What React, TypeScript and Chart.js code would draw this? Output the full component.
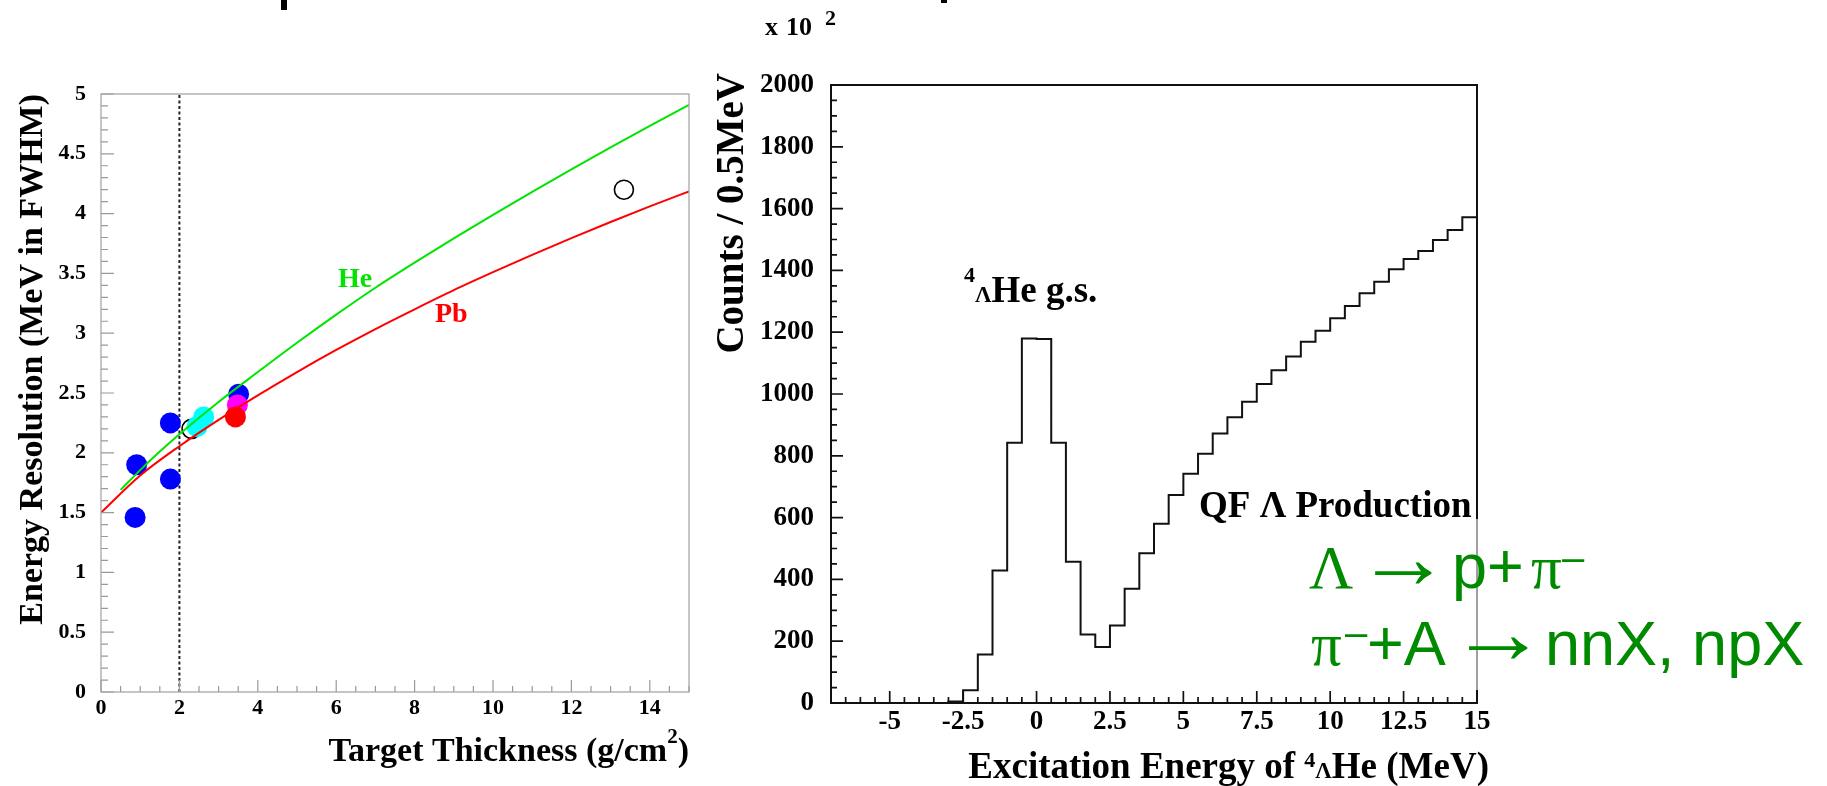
import React, { useEffect, useRef } from "react";
import { Chart, registerables } from "chart.js";

Chart.register(...registerables);

const SERIF = '"Liberation Serif", "Times New Roman", Times, serif';
const SANS = '"Liberation Sans", Arial, Helvetica, sans-serif';

// ---------------- Left panel: energy resolution vs target thickness ----------------
const THICKNESS_TICKS = [0, 2, 4, 6, 8, 10, 12, 14];
const RESOLUTION_TICKS = [0, 0.5, 1, 1.5, 2, 2.5, 3, 3.5, 4, 4.5, 5];

const HE_CURVE_X = [0.5, 1, 1.5, 2, 3, 4, 5, 6, 7, 8, 9, 10, 11, 12, 13, 14, 15];
const HE_CURVE_Y = [1.69, 1.855, 2.01, 2.155, 2.425, 2.675, 2.92, 3.155, 3.38, 3.59, 3.793, 3.99, 4.182, 4.37, 4.554, 4.734, 4.91];

const PB_CURVE_X = [0, 1, 2, 3, 4, 5, 6, 7, 8, 9, 10, 11, 12, 13, 14, 15];
const PB_CURVE_Y = [1.5, 1.81, 2.055, 2.275, 2.48, 2.675, 2.86, 3.035, 3.2, 3.36, 3.51, 3.655, 3.795, 3.93, 4.06, 4.185];

const BLUE_X = [0.87, 0.91, 1.77, 1.77, 3.51];
const BLUE_Y = [1.46, 1.9, 1.78, 2.25, 2.49];
const MAGENTA_X = [3.48];
const MAGENTA_Y = [2.4];
const RED_X = [3.43];
const RED_Y = [2.3];
const CYAN_X = [2.45, 2.62];
const CYAN_Y = [2.22, 2.3];
const OPEN_X = [2.31, 13.34];
const OPEN_Y = [2.2, 4.2];

const TARGET_LIMIT_X = [2, 2];
const TARGET_LIMIT_Y = [0, 5];

// ---------------- Right panel: 4_Lambda He excitation spectrum ----------------
const BIN_LOW_EDGES = [
  -7, -6.5, -6, -5.5, -5, -4.5, -4, -3.5, -3, -2.5, -2, -1.5, -1, -0.5,
  0, 0.5, 1, 1.5, 2, 2.5, 3, 3.5, 4, 4.5, 5, 5.5, 6, 6.5, 7, 7.5, 8, 8.5,
  9, 9.5, 10, 10.5, 11, 11.5, 12, 12.5, 13, 13.5, 14, 14.5,
];
const BIN_UPPER_EDGE = 15;
const COUNTS = [
  0, 0, 0, 0, 0, 0, 0, 0, 5, 41, 157, 429, 842, 1180,
  1178, 842, 457, 222, 181, 251, 370, 485, 580, 673, 742, 807, 872, 925, 975, 1032, 1077, 1121,
  1169, 1205, 1245, 1285, 1326, 1363, 1404, 1437, 1463, 1498, 1531, 1572,
];
const ENERGY_TICKS = [-5, -2.5, 0, 2.5, 5, 7.5, 10, 12.5, 15];
const COUNT_TICKS = [0, 200, 400, 600, 800, 1000, 1200, 1400, 1600, 1800, 2000];

// ---------------- helpers ----------------
const zip = (xs: number[], ys: number[]) => xs.map((x, i) => ({ x, y: ys[i] }));

type TickSpec = {
  xMin: number; xMax: number; xMinor: number; xMajor: number;
  yMin: number; yMax: number; yMinor: number; yMajor: number;
  xMajorLen: number; xMinorLen: number; yMajorLen: number; yMinorLen: number;
  color: string; lineWidth: number; frameColor: string; frameWidth: number;
};

function isMultiple(v: number, step: number) {
  const r = v / step;
  return Math.abs(r - Math.round(r)) < 1e-6;
}

function drawFrameAndTicks(chart: any, s: TickSpec) {
  const { ctx, chartArea: a } = chart;
  const xs = chart.scales.x;
  const ys = chart.scales.y;
  ctx.save();
  ctx.strokeStyle = s.color;
  ctx.lineWidth = s.lineWidth;
  ctx.beginPath();
  const nx = Math.round((s.xMax - s.xMin) / s.xMinor);
  for (let i = 0; i <= nx; i++) {
    const v = s.xMin + i * s.xMinor;
    const px = xs.getPixelForValue(v);
    const len = isMultiple(v, s.xMajor) ? s.xMajorLen : s.xMinorLen;
    ctx.moveTo(px, a.bottom);
    ctx.lineTo(px, a.bottom - len);
  }
  const ny = Math.round((s.yMax - s.yMin) / s.yMinor);
  for (let i = 0; i <= ny; i++) {
    const v = s.yMin + i * s.yMinor;
    const py = ys.getPixelForValue(v);
    const len = isMultiple(v, s.yMajor) ? s.yMajorLen : s.yMinorLen;
    ctx.moveTo(a.left, py);
    ctx.lineTo(a.left + len, py);
  }
  ctx.stroke();
  ctx.strokeStyle = s.frameColor;
  ctx.lineWidth = s.frameWidth;
  ctx.strokeRect(a.left, a.top, a.right - a.left, a.bottom - a.top);
  ctx.restore();
}

type Run = { t: string; font: string; dy?: number };
function drawRuns(ctx: CanvasRenderingContext2D, runs: Run[], x: number, y: number, align: "left" | "right", color: string) {
  ctx.save();
  ctx.textAlign = "left";
  ctx.textBaseline = "alphabetic";
  ctx.fillStyle = color;
  const widths = runs.map((r) => {
    ctx.font = r.font;
    return ctx.measureText(r.t).width;
  });
  const total = widths.reduce((p, c) => p + c, 0);
  let cx = align === "right" ? x - total : x;
  runs.forEach((r, i) => {
    ctx.font = r.font;
    ctx.fillText(r.t, cx, y + (r.dy || 0));
    cx += widths[i];
  });
  ctx.restore();
}

function drawText(ctx: CanvasRenderingContext2D, t: string, x: number, y: number, font: string, color: string) {
  ctx.save();
  ctx.font = font;
  ctx.fillStyle = color;
  ctx.textAlign = "left";
  ctx.textBaseline = "alphabetic";
  ctx.fillText(t, x, y);
  ctx.restore();
}

// draws a glyph so that its ink spans [x0, x1] horizontally and is centred on yc
function drawFitted(ctx: CanvasRenderingContext2D, t: string, font: string, x0: number, x1: number, yc: number, color: string) {
  ctx.save();
  ctx.font = font;
  ctx.textAlign = "left";
  ctx.textBaseline = "alphabetic";
  ctx.fillStyle = color;
  const m = ctx.measureText(t);
  const inkL = -m.actualBoundingBoxLeft;
  const inkR = m.actualBoundingBoxRight;
  const sx = (x1 - x0) / Math.max(1, inkR - inkL);
  const midY = (m.actualBoundingBoxDescent - m.actualBoundingBoxAscent) / 2;
  ctx.translate(x0 - inkL * sx, yc - midY);
  ctx.scale(sx, 1);
  ctx.fillText(t, 0, 0);
  ctx.restore();
}

function drawVertical(ctx: CanvasRenderingContext2D, t: string, x: number, yTop: number, font: string) {
  ctx.save();
  ctx.translate(x, yTop);
  ctx.rotate(-Math.PI / 2);
  ctx.font = font;
  ctx.fillStyle = "#000";
  ctx.textAlign = "right";
  ctx.textBaseline = "alphabetic";
  ctx.fillText(t, 0, 0);
  ctx.restore();
}

const bold = (px: number) => `bold ${px}px ${SERIF}`;
const HE_GREEN = "#00e400";

function pointSet(xs: number[], ys: number[], color: string, order: number) {
  return {
    data: zip(xs, ys),
    showLine: false,
    pointRadius: 10.5,
    pointBackgroundColor: color,
    pointBorderColor: color,
    pointBorderWidth: 0,
    order,
  };
}

function leftConfig(): any {
  const decor = {
    id: "leftDecor",
    afterDraw(chart: any) {
      const ctx = chart.ctx as CanvasRenderingContext2D;
      drawFrameAndTicks(chart, {
        xMin: 0, xMax: 15, xMinor: 0.5, xMajor: 2,
        yMin: 0, yMax: 5, yMinor: 0.1, yMajor: 0.5,
        xMajorLen: 12, xMinorLen: 6, yMajorLen: 13, yMinorLen: 7,
        color: "#9a9a9a", lineWidth: 1.2, frameColor: "#a0a0a0", frameWidth: 1.2,
      });
      drawRuns(
        ctx,
        [
          { t: "Target Thickness (g/cm", font: bold(34) },
          { t: "2", font: bold(21), dy: -18 },
          { t: ")", font: bold(34) },
        ],
        689, 761, "right", "#000"
      );
      drawVertical(ctx, "Energy Resolution (MeV in FWHM)", 42, 94, bold(34));
      drawText(ctx, "He", 338, 287, bold(28), HE_GREEN);
      drawText(ctx, "Pb", 435, 322, bold(28), "#ff0000");
    },
  };
  return {
    type: "line",
    data: {
      datasets: [
        {
          label: "He",
          data: zip(HE_CURVE_X, HE_CURVE_Y),
          borderColor: HE_GREEN,
          borderWidth: 2,
          pointRadius: 0,
          cubicInterpolationMode: "monotone",
          fill: false,
          order: 0,
        },
        {
          label: "Pb",
          data: zip(PB_CURVE_X, PB_CURVE_Y),
          borderColor: "#ff0000",
          borderWidth: 2,
          pointRadius: 0,
          cubicInterpolationMode: "monotone",
          fill: false,
          order: 1,
        },
        pointSet(CYAN_X, CYAN_Y, "#00ffff", 2),
        pointSet(RED_X, RED_Y, "#ff0000", 3),
        pointSet(MAGENTA_X, MAGENTA_Y, "#ff00ff", 4),
        pointSet(BLUE_X, BLUE_Y, "#0000ff", 5),
        {
          data: zip(OPEN_X, OPEN_Y),
          showLine: false,
          pointRadius: 9.5,
          pointBackgroundColor: "rgba(0,0,0,0)",
          pointBorderColor: "#000",
          pointBorderWidth: 1.6,
          order: 6,
        },
        {
          data: zip(TARGET_LIMIT_X, TARGET_LIMIT_Y),
          borderColor: "#222",
          borderWidth: 2,
          borderDash: [3, 2.5],
          pointRadius: 0,
          order: 7,
        },
      ],
    },
    options: {
      responsive: false,
      animation: false,
      events: [],
      layout: { padding: { left: 0, top: 94, right: 71, bottom: 0 } },
      plugins: { legend: { display: false }, tooltip: { enabled: false }, title: { display: false } },
      scales: {
        x: {
          type: "linear",
          min: 0,
          max: 15,
          grid: { display: false, drawTicks: false },
          border: { display: false },
          afterBuildTicks: (s: any) => {
            s.ticks = THICKNESS_TICKS.map((value) => ({ value }));
          },
          afterFit: (s: any) => {
            s.height = 94;
          },
          ticks: {
            autoSkip: false,
            maxRotation: 0,
            padding: 3,
            color: "#000",
            font: { family: SERIF, size: 22, weight: "bold" },
            callback: (v: any) => String(v),
          },
        },
        y: {
          type: "linear",
          min: 0,
          max: 5,
          grid: { display: false, drawTicks: false },
          border: { display: false },
          afterBuildTicks: (s: any) => {
            s.ticks = RESOLUTION_TICKS.map((value) => ({ value }));
          },
          afterFit: (s: any) => {
            s.width = 101;
          },
          ticks: {
            autoSkip: false,
            padding: 15,
            color: "#000",
            font: { family: SERIF, size: 22, weight: "bold" },
            callback: (v: any) => String(v),
          },
        },
      },
    },
    plugins: [decor],
  };
}

const RIGHT_LEFT = 690;
const X = (x: number) => x - RIGHT_LEFT;
const SLIDE_GREEN = "#008a00";

function rightConfig(): any {
  const decor = {
    id: "rightDecor",
    afterDraw(chart: any) {
      const ctx = chart.ctx as CanvasRenderingContext2D;
      drawFrameAndTicks(chart, {
        xMin: -7, xMax: 15, xMinor: 0.5, xMajor: 2.5,
        yMin: 0, yMax: 2000, yMinor: 50, yMajor: 200,
        xMajorLen: 12, xMinorLen: 6, yMajorLen: 12, yMinorLen: 6,
        color: "#111", lineWidth: 1.7, frameColor: "#111", frameWidth: 2,
      });
      drawVertical(ctx, "Counts / 0.5MeV", X(743), 73, bold(39));
      drawText(ctx, "x", X(765), 35, bold(26), "#000");
      drawText(ctx, "10", X(786), 35, bold(26), "#000");
      drawText(ctx, "2", X(825), 25, bold(22), "#000");
      drawRuns(
        ctx,
        [
          { t: "Excitation Energy of ", font: bold(37) },
          { t: "4", font: bold(22), dy: -11 },
          { t: "\u039B", font: bold(23) },
          { t: "He (MeV)", font: bold(37) },
        ],
        X(1489), 778, "right", "#000"
      );
      drawRuns(
        ctx,
        [
          { t: "4", font: bold(22), dy: -20 },
          { t: "\u039B", font: bold(23) },
          { t: "He g.s.", font: bold(37) },
        ],
        X(964), 302, "left", "#000"
      );
      // translucent text box of the overlaid slide annotation
      ctx.save();
      ctx.fillStyle = "rgba(255,255,255,0.6)";
      ctx.fillRect(X(1300), 519, 1827 - 1300, 690 - 519);
      ctx.restore();
      drawText(ctx, "QF \u039B Production", X(1199), 517, bold(37), "#000");
      // green slide annotation
      const G = `61px ${SERIF}`;
      const A = `90px ${SERIF}`;
      const S = `63px ${SANS}`;
      const M = `40px ${SANS}`;
      drawText(ctx, "\u039B", X(1309), 588, G, SLIDE_GREEN);
      drawFitted(ctx, "\u2192", A, X(1375), X(1432), 573, SLIDE_GREEN);
      drawText(ctx, "p+", X(1452), 588, S, SLIDE_GREEN);
      drawText(ctx, "\u03C0", X(1531), 588, G, SLIDE_GREEN);
      drawText(ctx, "\u2013", X(1562), 571, M, SLIDE_GREEN);
      drawText(ctx, "\u03C0", X(1311), 665, G, SLIDE_GREEN);
      drawText(ctx, "\u2013", X(1345), 646, M, SLIDE_GREEN);
      drawText(ctx, "+A", X(1367), 665, S, SLIDE_GREEN);
      drawFitted(ctx, "\u2192", A, X(1469), X(1528), 648, SLIDE_GREEN);
      drawText(ctx, "nnX, npX", X(1545), 665, S, SLIDE_GREEN);
    },
  };
  const histPoints = [
    ...BIN_LOW_EDGES.map((x, i) => ({ x, y: COUNTS[i] })),
    { x: BIN_UPPER_EDGE, y: COUNTS[COUNTS.length - 1] },
  ];
  return {
    type: "line",
    data: {
      datasets: [
        {
          data: histPoints,
          stepped: true,
          borderColor: "#111",
          borderWidth: 2,
          borderJoinStyle: "miter",
          pointRadius: 0,
          fill: false,
        },
      ],
    },
    options: {
      responsive: false,
      animation: false,
      events: [],
      layout: { padding: { left: 0, top: 85, right: 350, bottom: 0 } },
      plugins: { legend: { display: false }, tooltip: { enabled: false }, title: { display: false } },
      scales: {
        x: {
          type: "linear",
          min: -7,
          max: 15,
          grid: { display: false, drawTicks: false },
          border: { display: false },
          afterBuildTicks: (s: any) => {
            s.ticks = ENERGY_TICKS.map((value) => ({ value }));
          },
          afterFit: (s: any) => {
            s.height = 83;
          },
          ticks: {
            autoSkip: false,
            maxRotation: 0,
            padding: 3,
            color: "#000",
            font: { family: SERIF, size: 27, weight: "bold" },
            callback: (v: any) => String(v),
          },
        },
        y: {
          type: "linear",
          min: 0,
          max: 2000,
          grid: { display: false, drawTicks: false },
          border: { display: false },
          afterBuildTicks: (s: any) => {
            s.ticks = COUNT_TICKS.map((value) => ({ value }));
          },
          afterFit: (s: any) => {
            s.width = 141;
          },
          ticks: {
            autoSkip: false,
            padding: 17,
            color: "#000",
            font: { family: SERIF, size: 27, weight: "bold" },
            callback: (v: any) => String(v),
          },
        },
      },
    },
    plugins: [decor],
  };
}

export default function App() {
  const leftRef = useRef<HTMLCanvasElement | null>(null);
  const rightRef = useRef<HTMLCanvasElement | null>(null);

  useEffect(() => {
    const c1 = new Chart(leftRef.current as HTMLCanvasElement, leftConfig());
    const c2 = new Chart(rightRef.current as HTMLCanvasElement, rightConfig());
    return () => {
      c1.destroy();
      c2.destroy();
    };
  }, []);

  return (
    <div
      style={{
        position: "absolute",
        left: 0,
        top: 0,
        width: 1827,
        height: 786,
        background: "#fff",
        overflow: "hidden",
      }}
    >
      <canvas
        ref={leftRef}
        width={760}
        height={786}
        style={{ position: "absolute", left: 0, top: 0, width: 760, height: 786 }}
      />
      <canvas
        ref={rightRef}
        width={1137}
        height={786}
        style={{ position: "absolute", left: RIGHT_LEFT, top: 0, width: 1137, height: 786 }}
      />
      <div style={{ position: "absolute", left: 281, top: 0, width: 6, height: 10, background: "#000" }} />
      <div style={{ position: "absolute", left: 941, top: 0, width: 6, height: 3, background: "#000" }} />
    </div>
  );
}
